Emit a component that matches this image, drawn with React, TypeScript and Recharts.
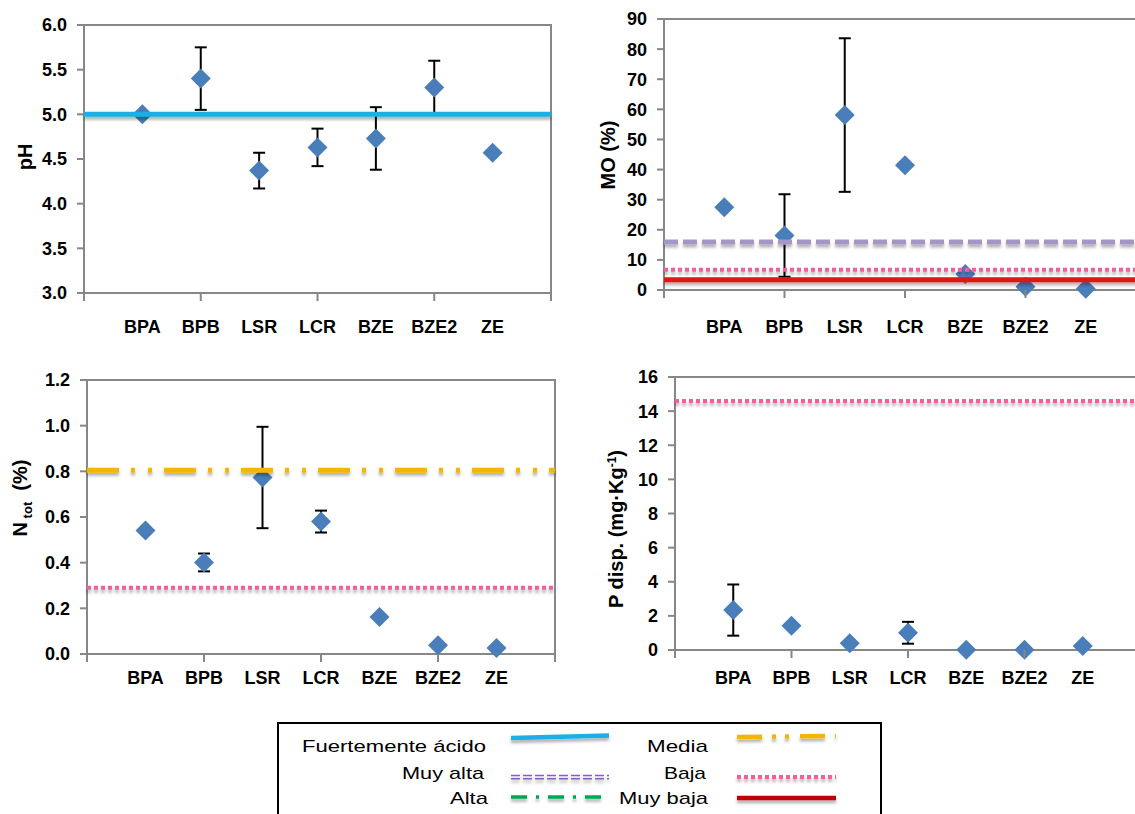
import React from 'react';
import { ScatterChart, Scatter, XAxis, YAxis, ErrorBar, ReferenceLine, ReferenceArea } from 'recharts';

// ---------- data ----------
const categories = ['BPA', 'BPB', 'LSR', 'LCR', 'BZE', 'BZE2', 'ZE'];

const phValues = [5.0, 5.4, 4.37, 4.63, 4.73, 5.3, 4.57];
const phErrors = [0, 0.35, 0.2, 0.21, 0.35, 0.3, 0];

const moValues = [27.5, 18.1, 58.1, 41.4, 5.3, 1.1, 0.4];
const moErrors = [0, 13.7, 25.5, 0, 0, 0, 0];

const nValues = [0.541, 0.401, 0.773, 0.58, 0.162, 0.038, 0.026];
const nErrors = [0, 0.039, 0.222, 0.048, 0, 0, 0];

const pValues = [2.34, 1.42, 0.39, 1.01, 0.02, 0.02, 0.23];
const pErrors = [1.5, 0, 0, 0.64, 0, 0, 0];

const xTicks = [0, 1, 2, 3, 4, 5, 6, 7, 8];
const xMajorTicks = [0, 2, 4, 6, 8];
const phTicks = [3.0, 3.5, 4.0, 4.5, 5.0, 5.5, 6.0];
const moTicks = [0, 10, 20, 30, 40, 50, 60, 70, 80, 90];
const nTicks = [0, 0.2, 0.4, 0.6, 0.8, 1.0, 1.2];
const pTicks = [0, 2, 4, 6, 8, 10, 12, 14, 16];

// threshold levels
const phFuertementeAcido = 5.0;
const moMuyAlta = 15.9;
const moBaja = 6.7;
const moMuyBaja = 3.4;
const nMedia = 0.805;
const nBaja = 0.29;
const pBaja = 14.6;

// ---------- styles ----------
const FONT = '"Liberation Sans", Arial, Helvetica, sans-serif';
const AXIS = '#878787';
const MARK = '#4a7ebb';
const C_FUERTE = '#1aafe6';
const C_MUYALTA = '#a397c8';
const C_MUYALTA_LEG = '#8a5cc8';
const C_ALTA = '#00a651';
const C_MEDIA = '#f7b500';
const C_BAJA = '#f2609a';
const C_MUYBAJA = '#e01515';
const C_MUYBAJA_LEG = '#c00000';

const DASH_MEDIA = '32 12 4 13 4 12';
const DASH_BAJA = '4 3';
const DASH_MUYALTA = '14 5';

const makeData = (vals: number[], errs: number[]) =>
  categories.map((c, i) => ({ x: i + 1, y: vals[i], err: errs[i], name: c }));

const Diamond = (p: any) => {
  const { cx, cy } = p;
  if (cx == null || cy == null) return null;
  const r = 10;
  return (
    <polygon
      points={`${cx},${cy - r} ${cx + r},${cy} ${cx},${cy + r} ${cx - r},${cy}`}
      fill={MARK}
    />
  );
};

const makeXTick = (labelDy: number) => (props: any) => {
  const { x, y, payload } = props;
  const v = payload.value;
  const label = v >= 1 && v <= categories.length ? categories[v - 1] : null;
  return (
    <g>
      {xMajorTicks.includes(v) && (
        <line x1={x} y1={y} x2={x} y2={y + 8} stroke={AXIS} strokeWidth={2} />
      )}
      {label && (
        <text
          x={x}
          y={y + labelDy}
          textAnchor="middle"
          fontFamily={FONT}
          fontSize={18}
          fontWeight="bold"
          fill="#000"
        >
          {label}
        </text>
      )}
    </g>
  );
};

type LineDef = { y: number; color: string; width: number; dash?: string };

type PanelProps = {
  left: number;
  top: number;
  width: number;
  height: number;
  margin: { top: number; right: number; bottom: number; left: number };
  xAxisHeight: number;
  labelDy: number;
  domain: [number, number];
  ticks: number[];
  digits: number;
  values: number[];
  errors: number[];
  lines: LineDef[];
};

const Panel = (p: PanelProps) => {
  const data = makeData(p.values, p.errors);
  return (
    <div style={{ position: 'absolute', left: p.left, top: p.top }}>
      <ScatterChart width={p.width} height={p.height} margin={p.margin}>
        <XAxis
          type="number"
          dataKey="x"
          domain={[0, 8]}
          ticks={xTicks}
          interval={0}
          height={p.xAxisHeight}
          tickSize={0}
          tickMargin={0}
          tickLine={false}
          axisLine={{ stroke: AXIS, strokeWidth: 2 }}
          tick={makeXTick(p.labelDy)}
        />
        <YAxis
          type="number"
          dataKey="y"
          domain={p.domain}
          ticks={p.ticks}
          interval={0}
          width={60}
          tickSize={7}
          tickMargin={10}
          tickLine={{ stroke: AXIS, strokeWidth: 2 }}
          axisLine={{ stroke: AXIS, strokeWidth: 2 }}
          tickFormatter={(v: number) => v.toFixed(p.digits)}
          tick={{ fill: '#000', fontSize: 18, fontWeight: 'bold', fontFamily: FONT }}
        />
        <ReferenceArea
          x1={0}
          x2={8}
          y1={p.domain[0]}
          y2={p.domain[1]}
          fill="none"
          stroke={AXIS}
          strokeWidth={2}
        />
        <Scatter data={data} shape={Diamond} isAnimationActive={false}>
          <ErrorBar
            dataKey="err"
            direction="y"
            width={6}
            stroke="#000"
            strokeWidth={2}
            isAnimationActive={false}
          />
        </Scatter>
        {p.lines.map((l, i) => (
          <ReferenceLine
            key={i}
            y={l.y}
            stroke={l.color}
            strokeWidth={l.width}
            strokeDasharray={l.dash}
            filter="url(#lineShadow)"
            zIndex={700}
          />
        ))}
      </ScatterChart>
    </div>
  );
};

const Title = ({ x, y, children }: { x: number; y: number; children: React.ReactNode }) => (
  <div
    style={{
      position: 'absolute',
      left: x,
      top: y,
      transform: 'translate(-50%, -50%) rotate(-90deg)',
      fontFamily: FONT,
      fontWeight: 'bold',
      fontSize: 20,
      whiteSpace: 'nowrap',
      color: '#000',
      lineHeight: 1,
    }}
  >
    {children}
  </div>
);

const LegendText = ({ x, y, len, children }: { x: number; y: number; len: number; children: string }) => (
  <text
    x={x}
    y={y}
    fontFamily={FONT}
    fontSize={17}
    fill="#000"
    textLength={len}
    lengthAdjust="spacingAndGlyphs"
  >
    {children}
  </text>
);

const Legend = () => (
  <svg
    width={1135}
    height={814}
    style={{ position: 'absolute', left: 0, top: 0, pointerEvents: 'none' }}
  >
    <rect x={278} y={723} width={603} height={130} fill="#fff" stroke="#000" strokeWidth={2} />
    <LegendText x={302} y={752} len={184}>Fuertemente ácido</LegendText>
    <LegendText x={402} y={779} len={82}>Muy alta</LegendText>
    <LegendText x={450} y={804} len={38}>Alta</LegendText>
    <LegendText x={647} y={752} len={61}>Media</LegendText>
    <LegendText x={664} y={779} len={42}>Baja</LegendText>
    <LegendText x={619} y={804} len={89}>Muy baja</LegendText>

    <g filter="url(#lineShadow)">
      <line x1={511} y1={738} x2={609} y2={735.5} stroke={C_FUERTE} strokeWidth={4.5} />
      <line x1={511} y1={775.5} x2={609} y2={775.5} stroke={C_MUYALTA_LEG} strokeWidth={1.6} strokeDasharray="9 3" />
      <line x1={511} y1={778.8} x2={609} y2={778.8} stroke={C_MUYALTA_LEG} strokeWidth={1.6} strokeDasharray="9 3" />
      <line x1={511} y1={797} x2={609} y2={797} stroke={C_ALTA} strokeWidth={3.5} strokeDasharray="16 9 3 9" />
      <line x1={737} y1={737} x2={836} y2={736} stroke={C_MEDIA} strokeWidth={4.5} strokeDasharray="25 10 4 9 4 11" />
      <line x1={737} y1={777} x2={836} y2={777} stroke={C_BAJA} strokeWidth={4} strokeDasharray={DASH_BAJA} />
      <line x1={737} y1={798} x2={836} y2={798} stroke={C_MUYBAJA_LEG} strokeWidth={4.5} />
    </g>
  </svg>
);

export default function App() {
  return (
    <div
      style={{
        position: 'fixed',
        left: 0,
        top: 0,
        width: 1135,
        height: 814,
        overflow: 'hidden',
        background: '#fff',
      }}
    >
      <svg width={0} height={0} style={{ position: 'absolute' }}>
        <defs>
          <filter
            id="lineShadow"
            filterUnits="userSpaceOnUse"
            x={-2000}
            y={-2000}
            width={6000}
            height={6000}
          >
            <feDropShadow dx={0} dy={3} stdDeviation={1.6} floodColor="#000" floodOpacity={0.3} />
          </filter>
        </defs>
      </svg>

      <Panel
        left={0}
        top={0}
        width={600}
        height={348}
        margin={{ top: 25, right: 49, bottom: 0, left: 24 }}
        xAxisHeight={55}
        labelDy={40}
        domain={[3, 6]}
        ticks={phTicks}
        digits={1}
        values={phValues}
        errors={phErrors}
        lines={[{ y: phFuertementeAcido, color: C_FUERTE, width: 5 }]}
      />
      <Panel
        left={580}
        top={0}
        width={576}
        height={345}
        margin={{ top: 19, right: 10, bottom: 0, left: 24 }}
        xAxisHeight={55}
        labelDy={43}
        domain={[0, 90]}
        ticks={moTicks}
        digits={0}
        values={moValues}
        errors={moErrors}
        lines={[
          { y: moMuyAlta, color: C_MUYALTA, width: 5, dash: DASH_MUYALTA },
          { y: moBaja, color: C_BAJA, width: 4, dash: DASH_BAJA },
          { y: moMuyBaja, color: C_MUYBAJA, width: 5 },
        ]}
      />
      <Panel
        left={0}
        top={350}
        width={600}
        height={354}
        margin={{ top: 30, right: 45, bottom: 0, left: 27 }}
        xAxisHeight={50}
        labelDy={30}
        domain={[0, 1.2]}
        ticks={nTicks}
        digits={1}
        values={nValues}
        errors={nErrors}
        lines={[
          { y: nMedia, color: C_MEDIA, width: 5, dash: DASH_MEDIA },
          { y: nBaja, color: C_BAJA, width: 4, dash: DASH_BAJA },
        ]}
      />
      <Panel
        left={590}
        top={350}
        width={561}
        height={350}
        margin={{ top: 27, right: 10, bottom: 0, left: 25 }}
        xAxisHeight={50}
        labelDy={34}
        domain={[0, 16]}
        ticks={pTicks}
        digits={0}
        values={pValues}
        errors={pErrors}
        lines={[{ y: pBaja, color: C_BAJA, width: 4, dash: DASH_BAJA }]}
      />

      <Title x={25} y={157}>pH</Title>
      <Title x={608} y={155}>MO (%)</Title>
      <Title x={22} y={498}>
        <span>N</span>
        <span style={{ fontSize: 13, verticalAlign: 'sub' }}> tot</span>
        <span>&nbsp; (%)</span>
      </Title>
      <Title x={616} y={529}>
        P disp. (mg·Kg<sup style={{ fontSize: 12 }}>-1</sup>)
      </Title>

      <Legend />
    </div>
  );
}
